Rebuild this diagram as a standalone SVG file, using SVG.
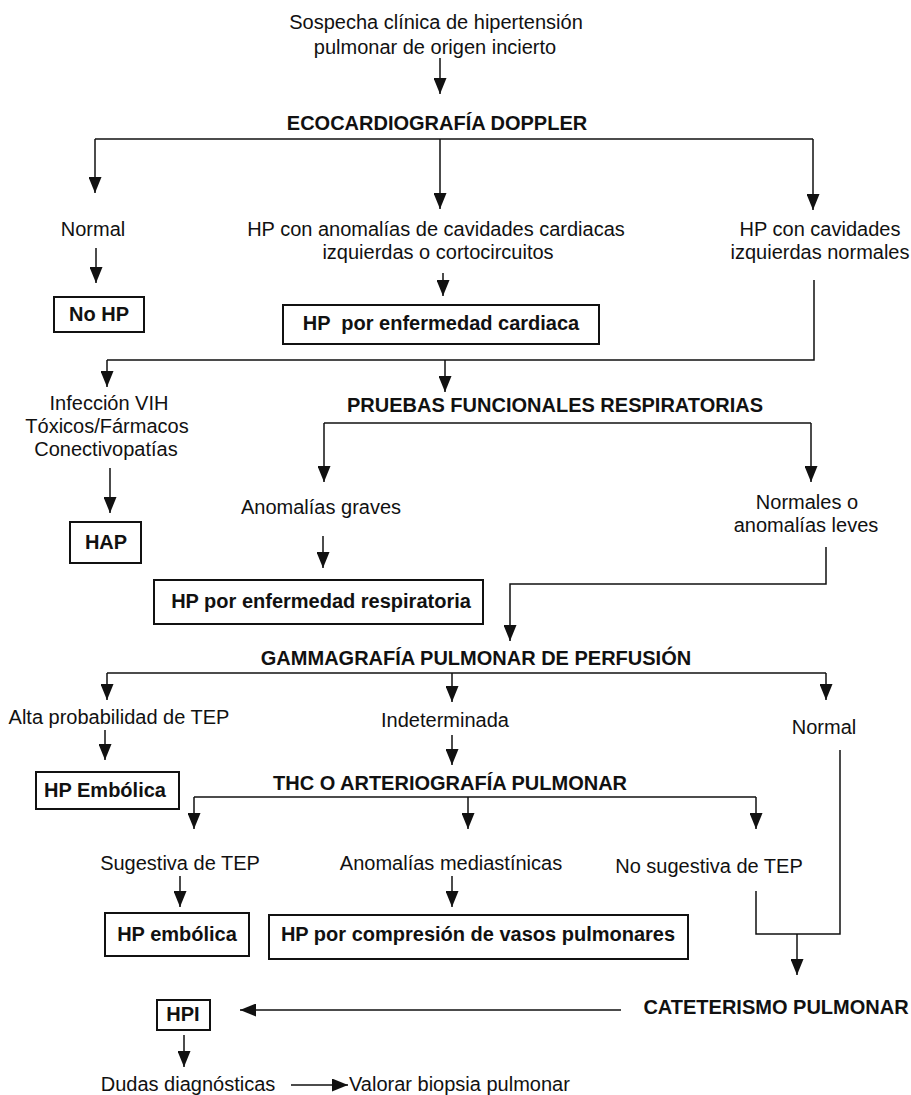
<svg xmlns="http://www.w3.org/2000/svg" width="911" height="1095" viewBox="0 0 911 1095">
<style>
text{font-family:"Liberation Sans",Arial,sans-serif;font-size:20px;fill:#111;text-anchor:middle}
.b{font-weight:bold}
.box{fill:#fff;stroke:#111;stroke-width:2}
.ln{fill:none;stroke:#111;stroke-width:1.5}
.ar{fill:none;stroke:#111;stroke-width:1.5;marker-end:url(#ah)}
</style>
<defs>
<marker id="ah" markerUnits="userSpaceOnUse" markerWidth="16" markerHeight="13" refX="16" refY="6.5" orient="auto">
<path d="M0,0 L16,6.5 L0,13 z" fill="#111"/>
</marker>
</defs>
<rect width="911" height="1095" fill="#fff"/>
<g id="connectors">
<path class="ar" d="M440,58 V94"/>
<path class="ln" d="M95,139 H813"/>
<path class="ar" d="M95,139 V193"/>
<path class="ar" d="M440,139 V209"/>
<path class="ar" d="M813,139 V210"/>
<path class="ar" d="M96,248 V283"/>
<path class="ar" d="M443,273 V296"/>
<path class="ln" d="M814,280 V360 H107"/>
<path class="ar" d="M107,360 V387"/>
<path class="ar" d="M445,360 V392"/>
<path class="ln" d="M324,423 H811"/>
<path class="ar" d="M324,423 V482"/>
<path class="ar" d="M811,423 V482"/>
<path class="ar" d="M110,468 V513"/>
<path class="ar" d="M323,536 V568"/>
<path class="ar" d="M826,547 V584 H510 V641"/>
<path class="ln" d="M107,673 H826"/>
<path class="ar" d="M107,673 V700"/>
<path class="ar" d="M452,673 V702"/>
<path class="ar" d="M826,673 V700"/>
<path class="ar" d="M105,730 V760"/>
<path class="ar" d="M452,735 V765"/>
<path class="ln" d="M194,797 H756"/>
<path class="ar" d="M194,797 V829"/>
<path class="ar" d="M468,797 V829"/>
<path class="ar" d="M756,797 V829"/>
<path class="ar" d="M180,876 V907"/>
<path class="ar" d="M452,876 V907"/>
<path class="ln" d="M840,750 V934 H756 V891"/>
<path class="ar" d="M797,934 V975"/>
<path class="ar" d="M621,1010 H240"/>
<path class="ar" d="M184,1035 V1067"/>
<path class="ar" d="M291,1085 H348"/>
</g>
<g id="n-start"><text x="436" y="29">Sospecha clínica de hipertensión</text><text x="435" y="54">pulmonar de origen incierto</text></g>
<g id="n-eco"><text class="b" x="437" y="130">ECOCARDIOGRAFÍA DOPPLER</text></g>
<g id="n-normal1"><text x="93" y="236">Normal</text></g>
<g id="n-anom"><text x="436" y="236">HP con anomalías de cavidades cardiacas</text><text x="438" y="259">izquierdas o cortocircuitos</text></g>
<g id="n-cavnorm"><text x="820" y="236">HP con cavidades</text><text x="820" y="259">izquierdas normales</text></g>
<g id="n-nohp"><rect class="box" x="54" y="297" width="90" height="35"/><text class="b" x="99" y="321">No HP</text></g>
<g id="n-cardiaca"><rect class="box" x="283" y="305" width="316" height="39"/><text class="b" x="441" y="330" xml:space="preserve">HP  por enfermedad cardiaca</text></g>
<g id="n-vih"><text x="109" y="410">Infección VIH</text><text x="107" y="433">Tóxicos/Fármacos</text><text x="106" y="456">Conectivopatías</text></g>
<g id="n-pfr"><text class="b" x="555" y="412">PRUEBAS FUNCIONALES RESPIRATORIAS</text></g>
<g id="n-graves"><text x="321" y="514">Anomalías graves</text></g>
<g id="n-leves"><text x="807" y="509">Normales o</text><text x="806" y="532">anomalías leves</text></g>
<g id="n-hap"><rect class="box" x="70" y="522" width="71" height="41"/><text class="b" x="106" y="549">HAP</text></g>
<g id="n-resp"><rect class="box" x="154" y="580" width="329" height="44"/><text class="b" x="321" y="608">HP por enfermedad respiratoria</text></g>
<g id="n-gamma"><text class="b" x="476" y="665">GAMMAGRAFÍA PULMONAR DE PERFUSIÓN</text></g>
<g id="n-alta"><text x="119" y="724">Alta probabilidad de TEP</text></g>
<g id="n-indet"><text x="445" y="727">Indeterminada</text></g>
<g id="n-normal2"><text x="824" y="734">Normal</text></g>
<g id="n-emb1"><rect class="box" x="36" y="772" width="143" height="37"/><text class="b" x="105" y="797">HP Embólica</text></g>
<g id="n-thc"><text class="b" x="450" y="790">THC O ARTERIOGRAFÍA PULMONAR</text></g>
<g id="n-sug"><text x="180" y="870">Sugestiva de TEP</text></g>
<g id="n-med"><text x="451" y="870">Anomalías mediastínicas</text></g>
<g id="n-nosug"><text x="709" y="873">No sugestiva de TEP</text></g>
<g id="n-emb2"><rect class="box" x="105" y="913" width="144" height="43"/><text class="b" x="177" y="941">HP embólica</text></g>
<g id="n-comp"><rect class="box" x="269" y="915" width="419" height="44"/><text class="b" x="478" y="941">HP por compresión de vasos pulmonares</text></g>
<g id="n-cat"><text class="b" x="776" y="1014">CATETERISMO PULMONAR</text></g>
<g id="n-hpi"><rect class="box" x="157" y="1000" width="53" height="30"/><text class="b" x="183" y="1021">HPI</text></g>
<g id="n-dudas"><text x="188" y="1091">Dudas diagnósticas</text></g>
<g id="n-biopsia"><text x="349" y="1091" style="text-anchor:start">Valorar biopsia pulmonar</text></g>
</svg>
